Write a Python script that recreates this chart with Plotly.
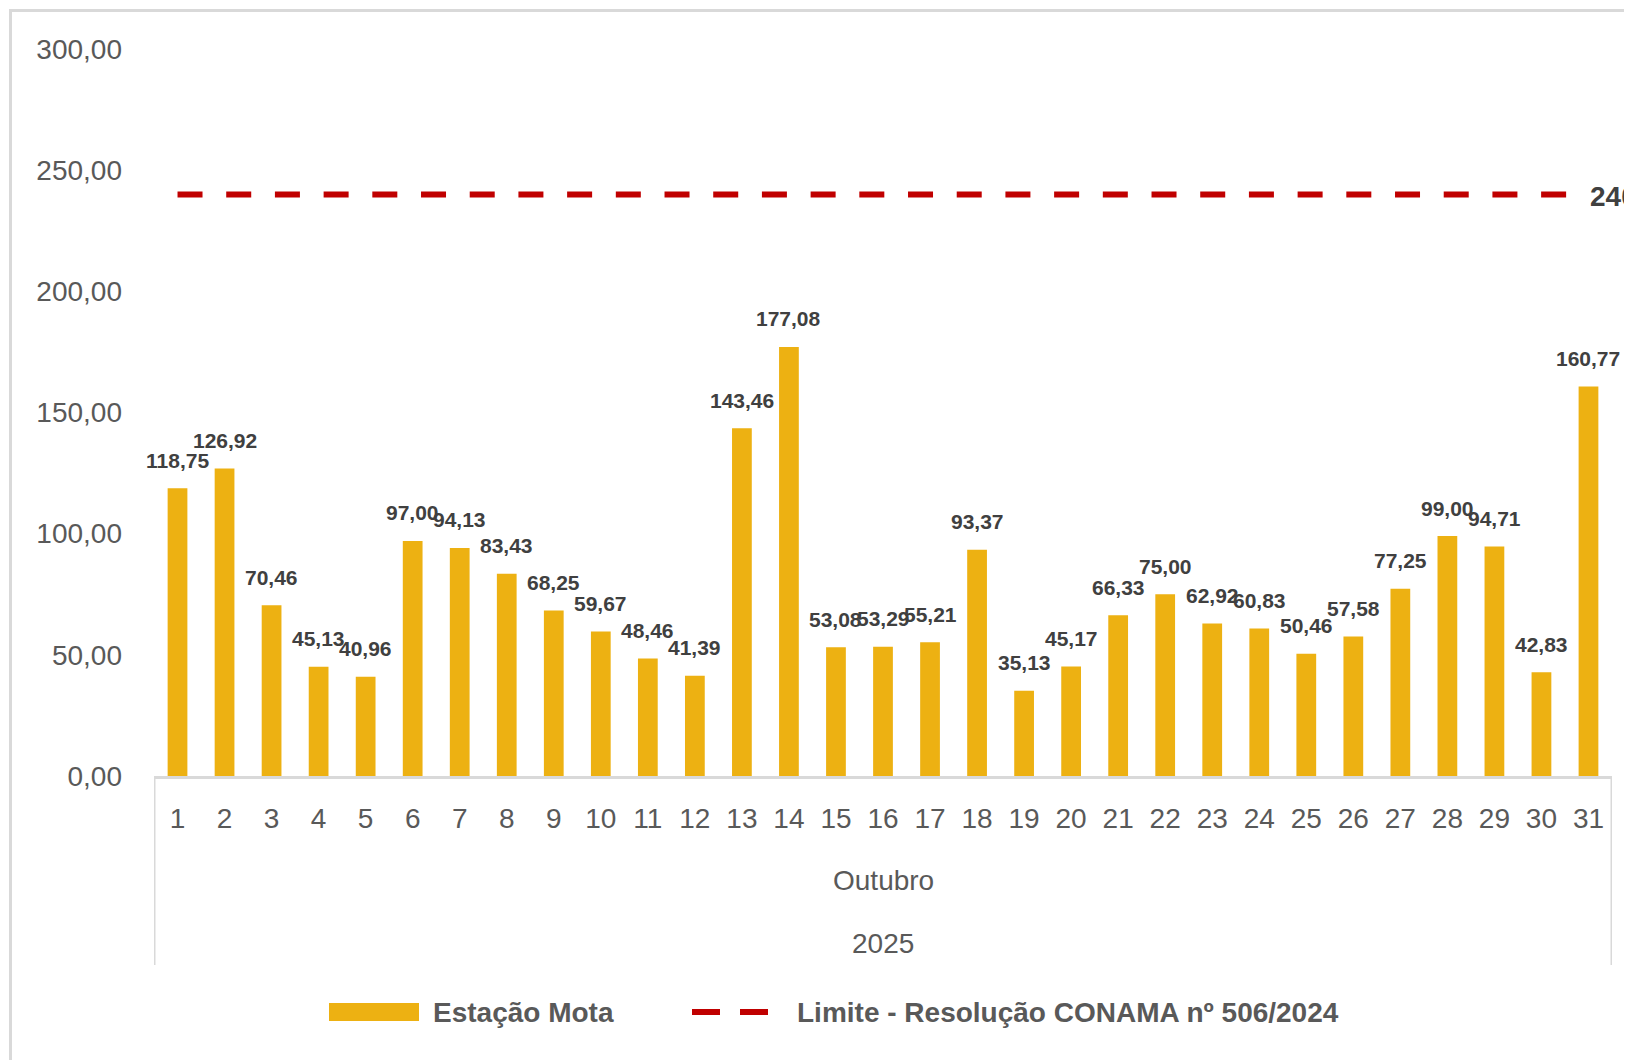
import plotly.graph_objects as go

# ---- data ----
days = list(range(1, 32))
day_labels = [str(d) for d in days]
mota_values = [118.75, 126.92, 70.46, 45.13, 40.96, 97.00, 94.13, 83.43, 68.25, 59.67,
               48.46, 41.39, 143.46, 177.08, 53.08, 53.29, 55.21, 93.37, 35.13, 45.17,
               66.33, 75.00, 62.92, 60.83, 50.46, 57.58, 77.25, 99.00, 94.71, 42.83, 160.77]
limit_value = 240.0
limit_values = [limit_value] * len(days)
y_ticks = [0, 50, 100, 150, 200, 250, 300]
y_tick_labels = ["0,00", "50,00", "100,00", "150,00", "200,00", "250,00", "300,00"]
month_label = "Outubro"
year_label = "2025"
series_name = "Estação Mota"
limit_name = "Limite - Resolução CONAMA nº 506/2024"

def br(v):
    return f"{v:.2f}".replace(".", ",")

# ---- layout geometry (page has an 8px body margin) ----
OFF = 8
W, H = 1632 - OFF, 1060 - OFF
L, R, T = 154 - OFF, 20, 49 - OFF
PH = 727
B = H - T - PH
PW = W - L - R

def px(x):  # page pixel x -> paper
    return (x - OFF - L) / PW

def py(y):  # page pixel y -> paper
    return (T + PH - (y - OFF)) / PH

BAR = "#EDB112"
RED = "#C00000"
GRID = "#D9D9D9"
TXT = "#595959"
LBL = "#404040"
FONT = "Liberation Sans, Arial, sans-serif"

fig = go.Figure()
fig.add_trace(go.Bar(x=days, y=mota_values, name=series_name, marker_color=BAR,
                     marker_line_width=0, width=0.42, showlegend=False))
fig.add_trace(go.Scatter(x=days, y=limit_values, name=limit_name, mode="lines",
                         line=dict(color=RED, width=6, dash="25px,23.7px"), showlegend=False))

annotations = []
for d, v in zip(days, mota_values):
    annotations.append(dict(x=d, y=v, text=br(v), showarrow=False, yshift=28,
                            yanchor="middle", xanchor="center",
                            font=dict(family=FONT, size=21, color=LBL, weight="bold")))
# limit label at last point
annotations.append(dict(x=days[-1], y=limit_values[-1], text=br(limit_value), showarrow=False,
                        xanchor="left", yanchor="middle", xshift=0, yshift=-2,
                        font=dict(family=FONT, size=28, color=LBL, weight="bold")))
# multi-level category labels
annotations.append(dict(x=0.5, y=py(880), xref="paper", yref="paper", text=month_label,
                        showarrow=False, xanchor="center", yanchor="middle",
                        font=dict(family=FONT, size=28, color=TXT)))
annotations.append(dict(x=0.5, y=py(943), xref="paper", yref="paper", text=year_label,
                        showarrow=False, xanchor="center", yanchor="middle",
                        font=dict(family=FONT, size=28, color=TXT)))
# custom legend texts
annotations.append(dict(x=px(431), y=py(1012), xref="paper", yref="paper", text=series_name,
                        showarrow=False, xanchor="left", yanchor="middle",
                        font=dict(family=FONT, size=28, color=TXT, weight="bold")))
annotations.append(dict(x=px(795), y=py(1012), xref="paper", yref="paper", text=limit_name,
                        showarrow=False, xanchor="left", yanchor="middle",
                        font=dict(family=FONT, size=28, color=TXT, weight="bold")))

shapes = [
    # chart border
    dict(type="rect", xref="paper", yref="paper", x0=px(10.5), x1=px(1700),
         y0=py(1120), y1=py(10.5), line=dict(color=GRID, width=3), layer="below"),
    # category axis side lines
    dict(type="line", xref="x", yref="paper", x0=0.5, x1=0.5, y0=0, y1=py(965),
         line=dict(color=GRID, width=3)),
    dict(type="line", xref="x", yref="paper", x0=31.5, x1=31.5, y0=0, y1=py(965),
         line=dict(color=GRID, width=3)),
    # legend swatches
    dict(type="rect", xref="paper", yref="paper", x0=px(329), x1=px(419),
         y0=py(1021), y1=py(1003), fillcolor=BAR, line=dict(width=0)),
    dict(type="line", xref="paper", yref="paper", x0=px(692), x1=px(720),
         y0=py(1012), y1=py(1012), line=dict(color=RED, width=6)),
    dict(type="line", xref="paper", yref="paper", x0=px(740), x1=px(768),
         y0=py(1012), y1=py(1012), line=dict(color=RED, width=6)),
]

fig.update_layout(
    width=W, height=H,
    margin=dict(l=L, r=R, t=T, b=B, pad=0),
    paper_bgcolor="white", plot_bgcolor="white",
    showlegend=False,
    annotations=annotations, shapes=shapes,
    xaxis=dict(range=[0.5, 31.5], tickmode="array", tickvals=days, ticktext=day_labels,
               showgrid=False, zeroline=False, showline=True, linecolor=GRID, linewidth=3,
               ticks="", ticklabelstandoff=15,
               tickfont=dict(family=FONT, size=28, color=TXT)),
    yaxis=dict(range=[0, 300], tickmode="array", tickvals=y_ticks, ticktext=y_tick_labels,
               showgrid=False, zeroline=False, showline=False, ticks="",
               ticklabelstandoff=31,
               tickfont=dict(family=FONT, size=28, color=TXT)),
)

fig.write_html("out.html")
